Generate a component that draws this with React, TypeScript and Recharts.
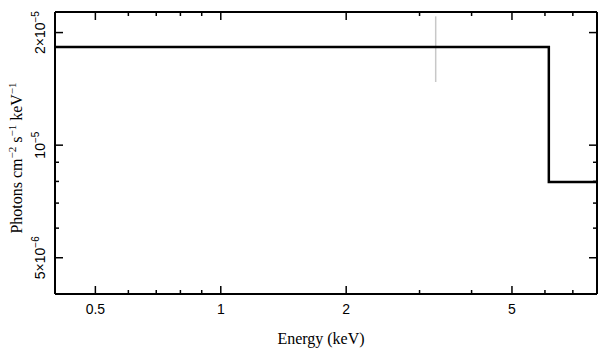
import React from 'react';
import { LineChart, Line, XAxis, YAxis, Label } from 'recharts';

// model step: bin start energies (keV) and flux levels
const stepEnergy = [0.4, 6.13, 8];
const stepFlux = [1.83e-5, 7.97e-6, 7.97e-6];

// the faint data bar near 3.3 keV
const barEnergy = [3.28, 3.28];
const barFlux = [2.21e-5, 1.475e-5];

const xTicks = [0.5, 0.6, 0.7, 0.8, 0.9, 1, 2, 3, 4, 5, 6, 7];
const xMajor = [0.5, 1, 2, 5];
const xMajorLabels = ['0.5', '1', '2', '5'];

const yTicks = [5e-6, 6e-6, 7e-6, 8e-6, 9e-6, 1e-5, 2e-5];
const yMajor = [5e-6, 1e-5, 2e-5];
const yMajorBase = ['5×10', '10', '2×10'];
const yMajorExp = ['−6', '−5', '−5'];

const stepData = stepEnergy.map((e, i) => ({ e, f: stepFlux[i] }));
const barData = barEnergy.map((e, i) => ({ e, f: barFlux[i] }));

const X_DOMAIN: [number, number] = [0.4, 8];
const Y_DOMAIN: [number, number] = [4e-6, 2.27e-5];

const sans = '"Liberation Sans", Arial, sans-serif';
const serif = '"Liberation Serif", "Times New Roman", serif';

const BottomTick = (props: any) => {
  const { x, y, payload } = props;
  const i = xMajor.indexOf(payload.value);
  return (
    <g>
      <line x1={x} x2={x} y1={y} y2={y - (i >= 0 ? 8 : 4)} stroke="#000" strokeWidth={1.5} />
      {i >= 0 && (
        <text x={x} y={y + 20} textAnchor="middle" fontFamily={sans} fontSize={14} fill="#000">
          {xMajorLabels[i]}
        </text>
      )}
    </g>
  );
};

const TopTick = (props: any) => {
  const { x, y, payload } = props;
  const major = xMajor.indexOf(payload.value) >= 0;
  return <line x1={x} x2={x} y1={y} y2={y + (major ? 8 : 4)} stroke="#000" strokeWidth={1.5} />;
};

const LeftTick = (props: any) => {
  const { x, y, payload } = props;
  const i = yMajor.findIndex((v) => Math.abs(v - payload.value) < 1e-9);
  return (
    <g>
      <line x1={x} x2={x + (i >= 0 ? 8 : 4)} y1={y} y2={y} stroke="#000" strokeWidth={1.5} />
      {i >= 0 && (
        <text
          transform={`translate(${x - 10}, ${y}) rotate(-90)`}
          textAnchor="middle"
          fontFamily={sans}
          fontSize={14}
          fill="#000"
        >
          {yMajorBase[i]}
          <tspan dy={-6} fontSize={10}>{yMajorExp[i]}</tspan>
        </text>
      )}
    </g>
  );
};

const RightTick = (props: any) => {
  const { x, y, payload } = props;
  const major = yMajor.some((v) => Math.abs(v - payload.value) < 1e-9);
  return <line x1={x} x2={x - (major ? 8 : 4)} y1={y} y2={y} stroke="#000" strokeWidth={1.5} />;
};

const XTitle = () => (
  <text x={321} y={344} textAnchor="middle" fontFamily={serif} fontSize={16} fontWeight="normal" fill="#000">
    Energy (keV)
  </text>
);

const YTitle = () => (
  <text
    transform="translate(22, 158) rotate(-90)"
    textAnchor="middle"
    fontFamily={serif}
    fontSize={16}
    fontWeight="normal"
    fill="#000"
  >
    Photons cm<tspan dy={-6} fontSize={11}>−2</tspan>
    <tspan dy={6}> s</tspan>
    <tspan dy={-6} fontSize={11}>−1</tspan>
    <tspan dy={6}> keV</tspan>
    <tspan dy={-6} fontSize={11}>−1</tspan>
  </text>
);

export default function App() {
  return (
    <div style={{ position: 'absolute', left: 0, top: 0, width: 609, height: 358, background: '#fff' }}>
      <LineChart width={609} height={358} margin={{ top: 0, right: 0, bottom: 0, left: 0 }}>
        <XAxis
          xAxisId="bottom"
          type="number"
          dataKey="e"
          scale="log"
          domain={X_DOMAIN}
          allowDataOverflow
          ticks={xTicks}
          interval={0}
          height={64}
          tickSize={0}
          tickMargin={0}
          tickLine={false}
          tick={<BottomTick />}
          axisLine={{ stroke: '#000', strokeWidth: 2 }}
          label={<Label content={<XTitle />} />}
        />
        <XAxis
          xAxisId="top"
          orientation="top"
          type="number"
          dataKey="e"
          scale="log"
          domain={X_DOMAIN}
          allowDataOverflow
          ticks={xTicks}
          interval={0}
          height={12}
          tickSize={0}
          tickMargin={0}
          tickLine={false}
          tick={<TopTick />}
          axisLine={{ stroke: '#000', strokeWidth: 2 }}
        />
        <YAxis
          yAxisId="left"
          type="number"
          dataKey="f"
          scale="log"
          domain={Y_DOMAIN}
          allowDataOverflow
          ticks={yTicks}
          interval={0}
          width={55}
          tickSize={0}
          tickMargin={0}
          tickLine={false}
          tick={<LeftTick />}
          axisLine={{ stroke: '#000', strokeWidth: 2 }}
          label={<Label content={<YTitle />} />}
        />
        <YAxis
          yAxisId="right"
          orientation="right"
          type="number"
          dataKey="f"
          scale="log"
          domain={Y_DOMAIN}
          allowDataOverflow
          ticks={yTicks}
          interval={0}
          width={12}
          tickSize={0}
          tickMargin={0}
          tickLine={false}
          tick={<RightTick />}
          axisLine={{ stroke: '#000', strokeWidth: 2 }}
        />
        <Line
          xAxisId="bottom"
          yAxisId="left"
          data={barData}
          dataKey="f"
          type="linear"
          stroke="#c8c8c8"
          strokeWidth={1.5}
          dot={false}
          isAnimationActive={false}
        />
        <Line
          xAxisId="top"
          yAxisId="right"
          data={stepData}
          dataKey="f"
          type="stepAfter"
          stroke="#000"
          strokeWidth={2.5}
          dot={false}
          isAnimationActive={false}
        />
      </LineChart>
    </div>
  );
}
